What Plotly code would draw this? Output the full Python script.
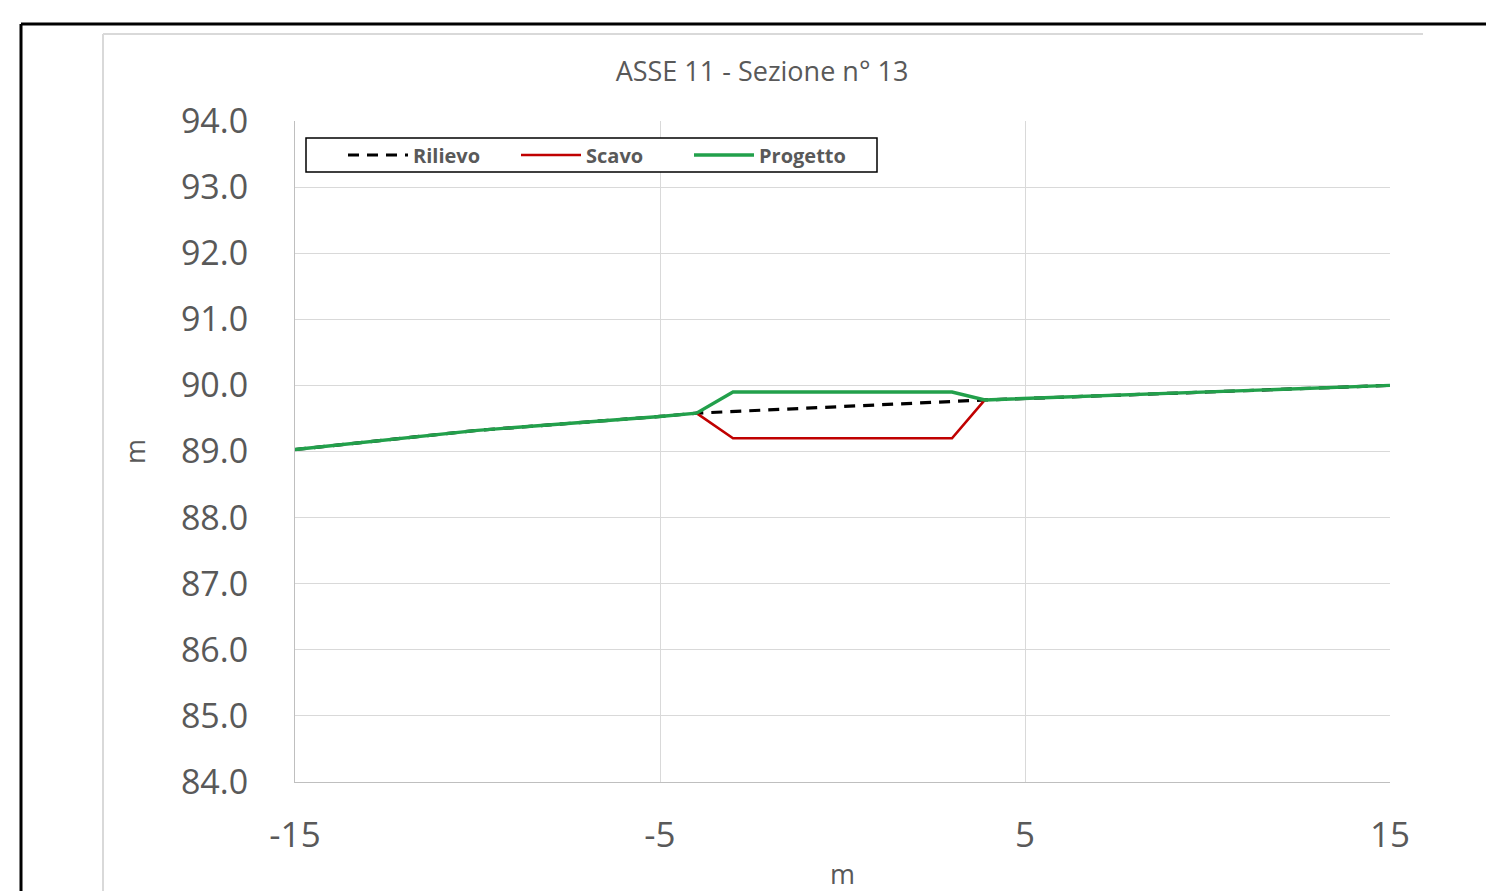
import plotly.graph_objects as go

# Data
rilievo_x = [-15, -10, -5, -4, 0, 3.9, 10, 15]
rilievo_y = [89.03, 89.32, 89.53, 89.58, 89.68, 89.78, 89.90, 90.00]

scavo_x = [-4, -3, 3, 3.9]
scavo_y = [89.58, 89.20, 89.20, 89.78]

progetto_x = [-15, -10, -5, -4, -3, 3, 3.9, 10, 15]
progetto_y = [89.03, 89.32, 89.53, 89.58, 89.90, 89.90, 89.78, 89.90, 90.00]

title_text = "ASSE 11 - Sezione n° 13"
x_ticks = [-15, -5, 5, 15]
y_ticks = [84, 85, 86, 87, 88, 89, 90, 91, 92, 93, 94]

W, H = 1494, 891
OFF = 8  # page body offset
# target screen positions of the plot area
SL, SR, ST, SB = 295, 1390, 121, 782
L = SL - OFF
T = ST - OFF
R = W - (SR - OFF)
B = H - (SB - OFF)
pw = W - L - R
ph = H - T - B

def px(xs):
    return (xs - SL) / pw

def py(ys):
    return 1 - (ys - ST) / ph

FONT = "Open Sans"
GREY = "#595959"

fig = go.Figure()
fig.add_trace(go.Scatter(x=rilievo_x, y=rilievo_y, mode="lines", name="Rilievo",
                         line=dict(color="black", width=3.2, dash="11px,8px")))
fig.add_trace(go.Scatter(x=scavo_x, y=scavo_y, mode="lines", name="Scavo",
                         line=dict(color="#c00000", width=2.6)))
fig.add_trace(go.Scatter(x=progetto_x, y=progetto_y, mode="lines", name="Progetto",
                         line=dict(color="#22a04b", width=3.4)))

shapes = [
    # outer black frame
    dict(type="line", xref="paper", yref="paper", x0=px(21), x1=px(1520), y0=py(24), y1=py(24),
         line=dict(color="black", width=3)),
    dict(type="line", xref="paper", yref="paper", x0=px(21), x1=px(21), y0=py(24), y1=py(920),
         line=dict(color="black", width=3)),
    # inner light frame
    dict(type="line", xref="paper", yref="paper", x0=px(103), x1=px(1423), y0=py(34), y1=py(34),
         line=dict(color="#d9d9d9", width=2)),
    dict(type="line", xref="paper", yref="paper", x0=px(103), x1=px(103), y0=py(34), y1=py(920),
         line=dict(color="#d9d9d9", width=2)),
    # legend box
    dict(type="rect", xref="paper", yref="paper", x0=px(306), x1=px(877), y0=py(138), y1=py(172),
         line=dict(color="black", width=1.5), fillcolor="white", layer="above"),
]

fig.update_layout(
    width=W, height=H,
    margin=dict(l=L, r=R, t=T, b=B),
    paper_bgcolor="white", plot_bgcolor="white",
    font=dict(family=FONT, color=GREY),
    title=dict(text=title_text, x=(762 - OFF) / W, xanchor="center",
               y=1 - (72 - OFF) / H, yanchor="middle",
               font=dict(size=27, color=GREY, family=FONT)),
    showlegend=True,
    legend=dict(orientation="h", x=px(343), y=py(155), xanchor="left", yanchor="middle",
                borderwidth=0, bgcolor="rgba(0,0,0,0)",
                font=dict(size=20, color=GREY, family=FONT, weight="bold"),
                itemwidth=60, entrywidthmode="pixels", entrywidth=98),
    shapes=shapes,
)

fig.update_xaxes(range=[-15, 15], tickvals=x_ticks, ticktext=[str(v) for v in x_ticks],
                 showgrid=True, gridcolor="#d9d9d9", gridwidth=1,
                 showline=True, linecolor="#bfbfbf", linewidth=1, zeroline=False,
                 tickfont=dict(size=35, color=GREY, family=FONT), ticks="",
                 ticklabelstandoff=22,
                 title=dict(text="m", font=dict(size=27, color=GREY, family=FONT), standoff=9))
fig.update_yaxes(range=[84, 94], tickvals=y_ticks, ticktext=[f"{v:.1f}" for v in y_ticks],
                 showgrid=True, gridcolor="#d9d9d9", gridwidth=1,
                 showline=True, linecolor="#bfbfbf", linewidth=1, zeroline=False,
                 tickfont=dict(size=34, color=GREY, family=FONT), ticks="",
                 ticklabelstandoff=39,
                 title=dict(text="m", font=dict(size=27, color=GREY, family=FONT), standoff=27))

fig.write_html("out.html")
